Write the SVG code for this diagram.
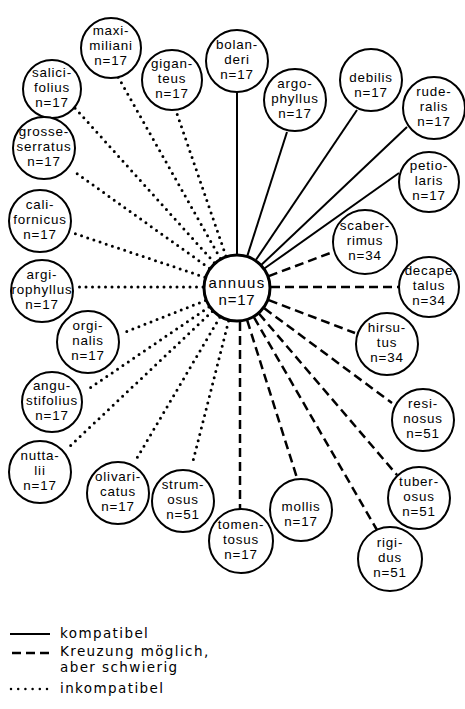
<svg xmlns="http://www.w3.org/2000/svg" width="465" height="709" viewBox="0 0 465 709">
<style>
.n circle{fill:#fff;stroke:#000;stroke-width:2}
.n text{font-family:"Liberation Sans",Arial,sans-serif;font-size:13.4px;text-anchor:middle;letter-spacing:0.8px;fill:#000}
.lg text{font-family:"DejaVu Sans",sans-serif;font-size:13.5px;letter-spacing:1.4px;fill:#000}
.s{stroke:#000;stroke-width:2;fill:none}
.d{stroke:#000;stroke-width:2.5;stroke-dasharray:9 5;fill:none}
.o{stroke:#000;stroke-width:3;stroke-dasharray:0 6.5;stroke-linecap:round;fill:none}
</style>
<rect width="465" height="709" fill="#fff"/>
<g id="connectors">
<line class="s" x1="237" y1="254" x2="237" y2="92"/>
<line class="s" x1="247.4" y1="255.6" x2="287" y2="132"/>
<line class="s" x1="256" y1="259.8" x2="357" y2="110"/>
<line class="s" x1="261.7" y1="264.6" x2="407" y2="127"/>
<line class="s" x1="264.7" y1="268.3" x2="399" y2="173"/>
<line class="d" x1="268.8" y1="276.1" x2="333" y2="252"/>
<line class="d" x1="271" y1="287" x2="399" y2="287"/>
<line class="d" x1="268.8" y1="300.1" x2="355" y2="333"/>
<line class="d" x1="264.3" y1="308.3" x2="392" y2="403"/>
<line class="d" x1="259.1" y1="313.8" x2="397" y2="475"/>
<line class="d" x1="254" y1="317.4" x2="377" y2="530"/>
<line class="d" x1="247.2" y1="320.4" x2="297" y2="478"/>
<line class="d" x1="240" y1="322" x2="240" y2="509"/>
<line class="o" x1="228.6" y1="321" x2="192" y2="465"/>
<line class="o" x1="219.8" y1="317.3" x2="137" y2="458"/>
<line class="o" x1="212.3" y1="311.4" x2="68" y2="448"/>
<line class="o" x1="208.9" y1="307.1" x2="87" y2="390"/>
<line class="o" x1="205.4" y1="300.5" x2="123" y2="333"/>
<line class="o" x1="203" y1="287" x2="75" y2="287"/>
<line class="o" x1="204.8" y1="277.2" x2="73" y2="233"/>
<line class="o" x1="209.4" y1="268.2" x2="72" y2="170"/>
<line class="o" x1="214.3" y1="262.7" x2="75" y2="108"/>
<line class="o" x1="220.3" y1="258.4" x2="117" y2="75"/>
<line class="o" x1="225.9" y1="255.9" x2="175" y2="108"/>
</g>
<g id="annuus" class="n"><circle cx="237" cy="288" r="33" style="stroke-width:3"/><text x="237" y="288" style="font-size:15px;letter-spacing:1.3px">annuus</text><text x="237" y="305" style="font-size:15px">n=17</text></g>
<g id="maximiliani" class="n"><circle cx="111" cy="48" r="30"/><text x="111" y="34.5">maxi-</text><text x="111" y="49.5">miliani</text><text x="111" y="64.5">n=17</text></g>
<g id="giganteus" class="n"><circle cx="172" cy="80" r="30"/><text x="172" y="67.5">gigan-</text><text x="172" y="82.5">teus</text><text x="172" y="97.5">n=17</text></g>
<g id="salicifolius" class="n"><circle cx="52" cy="89" r="29"/><text x="52" y="76.5">salici-</text><text x="52" y="91.5">folius</text><text x="52" y="106.5">n=17</text></g>
<g id="grosseserratus" class="n"><circle cx="44" cy="148" r="31"/><text x="44" y="135.5">grosse-</text><text x="44" y="150.5">serratus</text><text x="44" y="165.5">n=17</text></g>
<g id="californicus" class="n"><circle cx="40" cy="221" r="31"/><text x="40" y="208.5">cali-</text><text x="40" y="223.5">fornicus</text><text x="40" y="238.5">n=17</text></g>
<g id="argirophyllus" class="n"><circle cx="42" cy="291" r="31"/><text x="42" y="278.5">argi-</text><text x="42" y="293.5">rophyllus</text><text x="42" y="308.5">n=17</text></g>
<g id="orginalis" class="n"><circle cx="88" cy="342" r="31"/><text x="88" y="329.5">orgi-</text><text x="88" y="344.5">nalis</text><text x="88" y="359.5">n=17</text></g>
<g id="angustifolius" class="n"><circle cx="52" cy="402" r="30"/><text x="52" y="389.5">angu-</text><text x="52" y="404.5">stifolius</text><text x="52" y="419.5">n=17</text></g>
<g id="nuttalii" class="n"><circle cx="40" cy="472" r="31"/><text x="40" y="459.5">nutta-</text><text x="40" y="474.5">lii</text><text x="40" y="489.5">n=17</text></g>
<g id="olivaricatus" class="n"><circle cx="118" cy="493" r="31"/><text x="118" y="480.5">olivari-</text><text x="118" y="495.5">catus</text><text x="118" y="510.5">n=17</text></g>
<g id="strumosus" class="n"><circle cx="183" cy="501" r="31"/><text x="183" y="488.5">strum-</text><text x="183" y="503.5">osus</text><text x="183" y="518.5">n=51</text></g>
<g id="tomentosus" class="n"><circle cx="241" cy="541" r="32"/><text x="241" y="528.5">tomen-</text><text x="241" y="543.5">tosus</text><text x="241" y="558.5">n=17</text></g>
<g id="mollis" class="n"><circle cx="301" cy="510" r="31"/><text x="301" y="511">mollis</text><text x="301" y="526">n=17</text></g>
<g id="rigidus" class="n"><circle cx="390" cy="559" r="32"/><text x="390" y="546.5">rigi-</text><text x="390" y="561.5">dus</text><text x="390" y="576.5">n=51</text></g>
<g id="tuberosus" class="n"><circle cx="419" cy="498" r="31"/><text x="419" y="485.5">tuber-</text><text x="419" y="500.5">osus</text><text x="419" y="515.5">n=51</text></g>
<g id="resinosus" class="n"><circle cx="423" cy="420" r="31"/><text x="423" y="407.5">resi-</text><text x="423" y="422.5">nosus</text><text x="423" y="437.5">n=51</text></g>
<g id="hirsutus" class="n"><circle cx="387" cy="344" r="31"/><text x="387" y="331.5">hirsu-</text><text x="387" y="346.5">tus</text><text x="387" y="361.5">n=34</text></g>
<g id="decapetalus" class="n"><circle cx="429" cy="287" r="30"/><text x="429" y="274.5">decape</text><text x="429" y="289.5">talus</text><text x="429" y="304.5">n=34</text></g>
<g id="scaberrimus" class="n"><circle cx="365" cy="242" r="32"/><text x="365" y="229.5">scaber-</text><text x="365" y="244.5">rimus</text><text x="365" y="259.5">n=34</text></g>
<g id="petiolaris" class="n"><circle cx="429" cy="182" r="30"/><text x="429" y="169.5">petio-</text><text x="429" y="184.5">laris</text><text x="429" y="199.5">n=17</text></g>
<g id="ruderalis" class="n"><circle cx="434" cy="108" r="31"/><text x="434" y="95.5">rude-</text><text x="434" y="110.5">ralis</text><text x="434" y="125.5">n=17</text></g>
<g id="debilis" class="n"><circle cx="371" cy="80" r="31"/><text x="371" y="82">debilis</text><text x="371" y="97">n=17</text></g>
<g id="argophyllus" class="n"><circle cx="295" cy="100" r="31"/><text x="295" y="87.5">argo-</text><text x="295" y="102.5">phyllus</text><text x="295" y="117.5">n=17</text></g>
<g id="bolanderi" class="n"><circle cx="237" cy="61" r="31"/><text x="237" y="48.5">bolan-</text><text x="237" y="63.5">deri</text><text x="237" y="78.5">n=17</text></g>
<g id="legend" class="lg">
<line class="s" x1="10" y1="634" x2="50" y2="634"/>
<text x="60" y="638">kompatibel</text>
<line class="d" x1="12" y1="653" x2="49" y2="653"/>
<text x="60" y="656">Kreuzung möglich,</text>
<text x="60" y="672">aber schwierig</text>
<line class="o" x1="11" y1="689" x2="47" y2="689" style="stroke-width:2.5;stroke-dasharray:0 7.2"/>
<text x="60" y="693">inkompatibel</text>
</g>
</svg>
